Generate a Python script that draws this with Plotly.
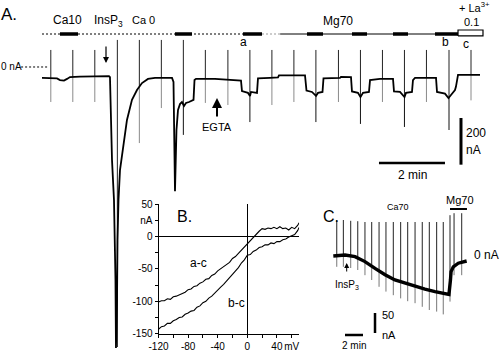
import numpy as np
import plotly.graph_objects as go

# ---------------- Panel A: whole-cell current (time in s, current in nA)
a_time = [0, 14.5, 27.3, 32.7, 40, 45.5, 50.9, 69.1, 105.5, 121.8, 123.6, 125.5, 127.3, 130.9,
          133.6, 134.5, 136.4, 137.3, 139.1, 141.8, 147.3, 154.5, 163.6, 172.7, 181.8, 192.7,
          205.5, 236.4, 239.1, 241.8, 244.5, 247.3, 250.9, 254.5, 258.2, 261.8, 267.3, 272.7,
          275.5, 277.3, 280, 314.5, 341.8, 361.8, 363.6, 374.5, 378.2, 380, 390.9, 392.7, 414.5,
          429.1, 430.9, 478.2, 480.9, 490.9, 498.2, 501.8, 510, 511.8, 541.8, 543.6, 561.8,
          563.6, 574.5, 579.1, 583.6, 594.5, 596.4, 614.5, 638.2, 640, 650.9, 659.1, 661.8,
          672.7, 674.5, 678.2, 716.4, 718.2, 732.7, 739.1, 743.6, 750.9, 752.7, 756.4, 796.4]
a_current = [-47, -47, -49, -56, -58, -51, -43, -41, -39, -39, -43, -227, -399, -570,
             -913, -1204, -999, -742, -570, -442, -343, -227, -141, -99, -69, -51,
             -47, -47, -64, -532, -270, -184, -159, -150, -167, -154, -150, -146,
             -141, -56, -51, -51, -56, -58, -103, -111, -124, -107, -111, -49, -47,
             -45, -36, -36, -101, -107, -124, -111, -107, -49, -47, -42, -43,
             -105, -111, -129, -111, -107, -56, -51, -51, -105, -107, -129, -111,
             -107, -56, -47, -47, -107, -114, -133, -120, -99, -84, -34, -34]

# voltage-ramp responses (time, upper and lower current extremes)
a_ramp_time = [16, 56, 96, 137, 177, 217, 257, 297, 338, 378, 418, 458, 498, 539, 579, 619,
               659, 699, 740, 780]
a_ramp_top = [73, 73, 73, 116, 116, 116, 116, 73, 73, 73, 73, 73, 73, 73, 73, 73, 73, 73, 73, 73]
a_ramp_bottom = [-150, -150, -150, -1200, -326, -176, -291, -154, -163, -236, -163, -150,
                 -236, -150, -244, -150, -257, -150, -270, -143]

# solution-change bars (s)
bar_start = [32.7, 241.8, 365.5, 481.8, 563.6, 638.2, 714.5]
bar_end = [65.5, 272.7, 400, 510.9, 590.9, 665.5, 756.4]
la_start, la_end = 756.4, 801.8

# ---------------- Panel B: I-V difference curves
b_voltage = list(range(-120, 69, 4)) + [70]
b_ac = [-101, -99, -99, -96, -97, -93, -92, -90, -87, -86, -82, -81, -77, -76, -72, -70,
        -66, -65, -60, -58, -53, -50, -47, -43, -40, -34, -31, -26, -21, -17, -11, -7,
        -2, 3, 8, 12, 11, 13, 12, 14, 12, 15, 12, 13, 10, 14, 12, 17, 21]
b_bc = [-143, -139, -138, -134, -134, -130, -128, -125, -124, -120, -118, -115, -114, -109,
        -107, -102, -100, -95, -92, -87, -83, -78, -74, -69, -64, -59, -53, -48, -41, -36,
        -29, -28, -23, -21, -17, -16, -13, -13, -10, -11, -8, -8, -5, -4, -1, 1, 3, 9, 14]
b_xticks = [-120, -100, -80, -60, -40, -20, 0, 20, 40, 60]
b_xlabels = ["-120", "", "-80", "", "-40", "", "0", "", "40", "mV"]
b_yticks = [-150, -125, -100, -75, -50, -25, 0, 25, 50]
b_ylabels = ["-150", "", "-100", "", "-50", "", "0", "nA", "50"]

# ---------------- Panel C: Ca70 response
c_time = [0, 78, 145, 211, 278, 345, 411, 478, 545, 611, 678, 745, 771, 781, 785, 800, 833, 889]
c_current = [0, 2.5, -1.7, -14, -31, -47, -60, -68, -77, -83, -89, -93, -96, -60, -39, -27, -18, -12.5]
c_ramp_time = [23, 67, 116, 163, 211, 256, 305, 351, 400, 449, 496, 545, 593, 640, 689, 733,
               778, 805, 856]
c_ramp_top = [90, 90, 88, 87, 85, 85, 85, 85, 85, 85, 85, 85, 85, 85, 85, 85, 102, 107, 107]
c_ramp_bottom = [-27, -27, -30, -35, -48, -60, -77, -89, -98, -106, -113, -118, -127, -135,
                 -139, -146, -114, -48, -48]

# ====================================================================
W, H = 500, 352
FONT = "Liberation Sans, Arial, sans-serif"


def P(x, y):
    return x / W, 1 - y / H


fig = go.Figure()


def seg_traces(times, tops, bottoms, tr_t, tr_i, xa, ya, deep_level, low_col):
    up_x, up_y, lo_x, lo_y, dk_x, dk_y = [], [], [], [], [], []
    for t, tp, bt in zip(times, tops, bottoms):
        lvl = float(np.interp(t, tr_t, tr_i))
        up_x += [t, t, None]
        up_y += [tp, lvl, None]
        if lvl < deep_level:
            dk_x += [t, t, None]
            dk_y += [lvl, bt, None]
        else:
            lo_x += [t, t, None]
            lo_y += [lvl, bt, None]
    for xs, ys, col in [(lo_x, lo_y, low_col), (up_x, up_y, "#222"), (dk_x, dk_y, "#111")]:
        fig.add_trace(go.Scatter(x=xs, y=ys, mode="lines", line=dict(color=col, width=1),
                                 xaxis=xa, yaxis=ya, hoverinfo="skip"))


# ---- Panel A
seg_traces(a_ramp_time, a_ramp_top, a_ramp_bottom, a_time, a_current, "x", "y", -90, "#8a8a8a")
fig.add_trace(go.Scatter(x=a_time, y=a_current, mode="lines",
                         line=dict(color="black", width=1.8), xaxis="x", yaxis="y"))

LINE_I = 141.4
fig.add_trace(go.Scatter(x=[0, 400], y=[LINE_I, LINE_I], mode="lines",
                         line=dict(color="black", width=1, dash="2px,2px"), xaxis="x", yaxis="y"))
fig.add_trace(go.Scatter(x=[400, 433], y=[LINE_I, LINE_I], mode="lines",
                         line=dict(color="#999", width=1, dash="2px,2px"), xaxis="x", yaxis="y"))
fig.add_trace(go.Scatter(x=[433, bar_end[-1]], y=[LINE_I, LINE_I], mode="lines",
                         line=dict(color="black", width=1), xaxis="x", yaxis="y"))
bx, by = [], []
for s, e in zip(bar_start, bar_end):
    bx += [s, e, None]
    by += [LINE_I, LINE_I, None]
fig.add_trace(go.Scatter(x=bx, y=by, mode="lines", line=dict(color="black", width=3.5),
                         xaxis="x", yaxis="y"))
fig.add_trace(go.Scatter(x=[la_start, la_end, la_end, la_start, la_start],
                         y=[133, 133, 158.6, 158.6, 133], mode="lines", fill="toself",
                         fillcolor="white", line=dict(color="black", width=1.2),
                         xaxis="x", yaxis="y"))
# 0 nA dotted marker
fig.add_trace(go.Scatter(x=[-38, 12], y=[0, 0], mode="lines",
                         line=dict(color="black", width=1, dash="2px,2px"), xaxis="x", yaxis="y"))
# scale bars A
fig.add_trace(go.Scatter(x=[761.8, 761.8], y=[-218.6, -218.6 - 200], mode="lines",
                         line=dict(color="black", width=3), xaxis="x", yaxis="y"))
fig.add_trace(go.Scatter(x=[612.7, 612.7 + 120], y=[-411.5, -411.5], mode="lines",
                         line=dict(color="black", width=2.5), xaxis="x", yaxis="y"))

# ---- Panel B
fig.add_trace(go.Scatter(x=b_voltage, y=b_ac, mode="lines", line=dict(color="black", width=1.1),
                         xaxis="x2", yaxis="y2"))
fig.add_trace(go.Scatter(x=b_voltage, y=b_bc, mode="lines", line=dict(color="black", width=1.1),
                         xaxis="x2", yaxis="y2"))

# ---- Panel C
seg_traces(c_ramp_time, c_ramp_top, c_ramp_bottom, c_time, c_current, "x3", "y3", -1e9, "#777")
fig.add_trace(go.Scatter(x=c_time, y=c_current, mode="lines",
                         line=dict(color="black", width=3.4), xaxis="x3", yaxis="y3"))
fig.add_trace(go.Scatter(x=[778, 891], y=[117.5, 117.5], mode="lines",
                         line=dict(color="black", width=2), xaxis="x3", yaxis="y3"))
fig.add_trace(go.Scatter(x=[278, 278], y=[-142.5, -192.5], mode="lines",
                         line=dict(color="black", width=2.5), xaxis="x3", yaxis="y3"))
fig.add_trace(go.Scatter(x=[78, 198], y=[-197.5, -197.5], mode="lines",
                         line=dict(color="black", width=2.5), xaxis="x3", yaxis="y3"))

ann = []


def txt(x, y, s, size, anchor="center"):
    px_, py_ = P(x, y)
    ann.append(dict(x=px_, y=py_, xref="paper", yref="paper", text=s, showarrow=False,
                    xanchor=anchor, yanchor="middle", borderpad=0,
                    font=dict(family=FONT, size=size, color="black")))


def arrow(x, y, ay, width, size):
    px_, py_ = P(x, y)
    ann.append(dict(x=px_, y=py_, xref="paper", yref="paper", text="", showarrow=True,
                    ax=0, ay=ay, arrowhead=2, arrowwidth=width, arrowsize=size, arrowcolor="black"))


txt(9, 14, "A.", 17)
txt(67, 20, "Ca10", 12)
txt(108, 21, "InsP<sub>3</sub>", 12)
txt(143, 20, "Ca 0", 11)
txt(338, 21, "Mg70", 12)
txt(474, 7, "+ La<sup>3+</sup>", 11)
txt(471, 22, "0.1", 11)
txt(243, 42, "a", 12)
txt(445, 42, "b", 12)
txt(466, 44, "c", 12)
txt(0, 67, "0 nA", 10, "left")
txt(217, 127, "EGTA", 11)
txt(465, 133, "200", 12, "left")
txt(465, 150, "nA", 12, "left")
txt(412, 175, "2 min", 12)
arrow(106, 63, -18, 1.2, 1)
arrow(217, 98, 20, 2, 1)

txt(184, 216, "B.", 16)
txt(198, 263, "a-c", 12)
txt(236, 303, "b-c", 12)

txt(331, 216, "C.", 16)
txt(398, 207, "Ca70", 9)
txt(460, 200, "Mg70", 11)
txt(486, 255, "0 nA", 12)
txt(347, 285, "InsP<sub>3</sub>", 10)
txt(381, 315, "50", 11, "left")
txt(381, 335, "nA", 11, "left")
txt(354, 345, "2 min", 10)
arrow(346.7, 263, 10, 1, 1)

hidden = dict(visible=False, showgrid=False, zeroline=False, automargin=False)
fig.update_layout(
    width=W, height=H, autosize=False,
    margin=dict(l=0, r=0, t=0, b=0, pad=0, autoexpand=False),
    paper_bgcolor="white", plot_bgcolor="rgba(0,0,0,0)", showlegend=False,
    font=dict(family=FONT, color="black"),
    xaxis=dict(domain=[0, 1], range=[-76.36, 832.73], **hidden),
    yaxis=dict(domain=[0, 1], range=[-1221.4, 287.1], **hidden),
    xaxis2=dict(domain=[158.5 / W, 299.1 / W], range=[-120, 70], anchor="y2", automargin=False,
                showline=True, linecolor="black", linewidth=1, showgrid=False,
                zeroline=True, zerolinecolor="black", zerolinewidth=1,
                tickmode="array", tickvals=b_xticks, ticktext=b_xlabels, tickangle=0,
                ticks="outside", ticklen=3, tickcolor="black",
                tickfont=dict(family=FONT, size=10, color="black")),
    yaxis2=dict(domain=[1 - 333.8 / H, 1 - 204 / H], range=[-150, 50], anchor="x2", automargin=False,
                showline=True, linecolor="black", linewidth=1, showgrid=False,
                zeroline=True, zerolinecolor="black", zerolinewidth=1,
                tickmode="array", tickvals=b_yticks, ticktext=b_ylabels,
                ticks="outside", ticklen=3, tickcolor="black",
                tickfont=dict(family=FONT, size=10, color="black")),
    xaxis3=dict(domain=[0.64, 1], range=[-88.7, 1111.3], anchor="y3", **hidden),
    yaxis3=dict(domain=[0, 1 - 190 / H], range=[-240, 165], anchor="x3", **hidden),
    annotations=ann,
)
fig.write_html("out.html", config={"responsive": False, "displayModeBar": False})
